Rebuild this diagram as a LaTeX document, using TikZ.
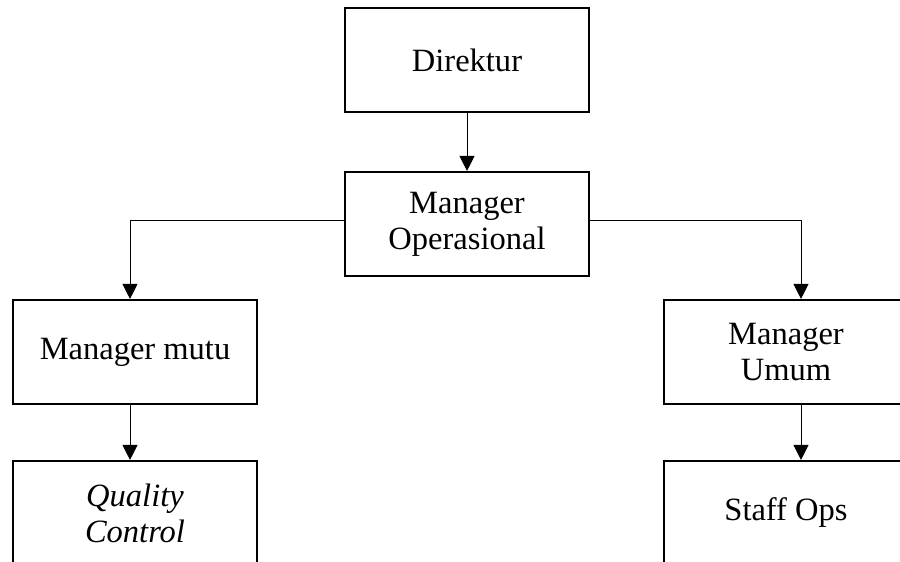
\documentclass[tikz,border=0pt]{standalone}
\usepackage{fontspec}
\setmainfont{Liberation Serif}
\usetikzlibrary{arrows.meta}
\tikzstyle{unit} = [rectangle, minimum width=4.88cm, minimum height=2.08cm, inner sep=0pt, text centered, align=center, draw=black, line width=1.2pt]
\tikzstyle{arrow} = [line width=0.55pt, -{Triangle[width=0.3cm, length=0.3cm]}]

\begin{document}
\begin{tikzpicture}[every node/.style={font=\fontsize{18.5}{20.5}\selectfont}]
    \useasboundingbox (0,0) rectangle (18,-11.24);
    \clip (0,0) rectangle (18,-11.24);
    % Nodes
    \node (direktur) [unit] at (9.34,-1.2) {Direktur};
    \node (mgrop) [unit] at (9.34,-4.48) {Manager\\Operasional};
    \node (mutu) [unit] at (2.7,-7.04) {Manager mutu};
    \node (qc) [unit] at (2.7,-10.26) {\itshape Quality\\\itshape Control};
    \node (umum) [unit] at (15.72,-7.04) {Manager\\Umum};
    \node (staff) [unit] at (15.72,-10.26) {Staff Ops};

    % Arrows
    \draw [arrow] (direktur) -- (mgrop);
    \draw [arrow] ([yshift=0.08cm]mgrop.west) -| ([xshift=-0.1cm]mutu.north);
    \draw [arrow] ([yshift=0.08cm]mgrop.east) -| ([xshift=0.3cm]umum.north);
    \draw [arrow] ([xshift=-0.1cm]mutu.south) -- ([xshift=-0.1cm]qc.north);
    \draw [arrow] ([xshift=0.3cm]umum.south) -- ([xshift=0.3cm]staff.north);
\end{tikzpicture}
\end{document}
